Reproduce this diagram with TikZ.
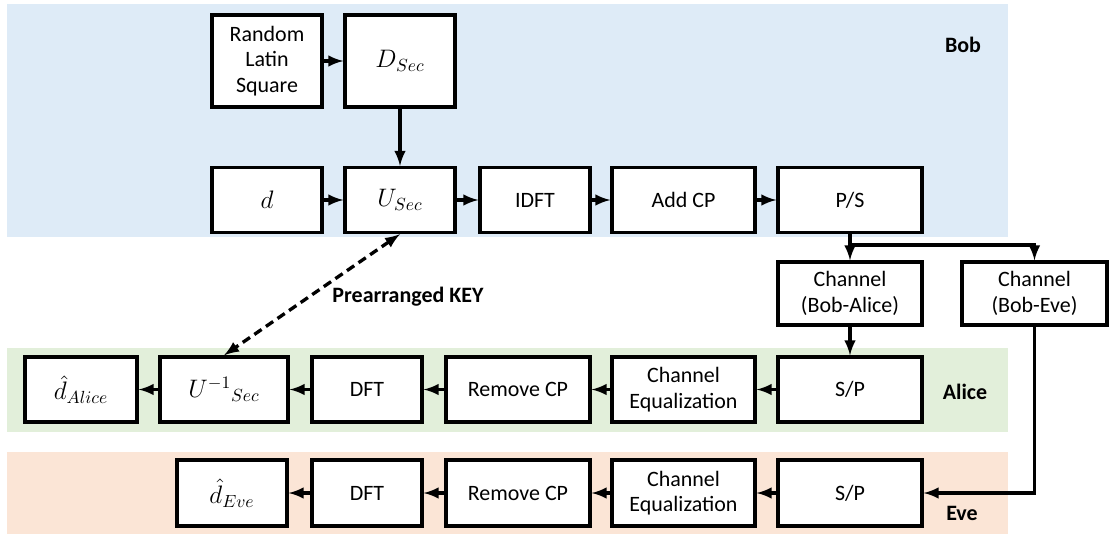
\documentclass[tikz,border=0pt]{standalone}
\usepackage{fontspec}
\setmainfont{Carlito}
\definecolor{bobblue}{RGB}{222,235,247}
\definecolor{alicegreen}{RGB}{226,239,218}
\definecolor{evepink}{RGB}{251,229,214}

\begin{document}
\begin{tikzpicture}[x=0.02cm, y=-0.02cm, >=latex,
	every node/.style={font=\fontsize{12.5}{14.5}\selectfont},
	blk/.style={draw, line width=1.9pt, fill=white, align=center, minimum width=2.2cm, minimum height=1.3cm, inner sep=1pt},
	sym/.style={font=\fontsize{14}{16}\selectfont},
	lnk/.style={line width=1.9pt, ->},
	tag/.style={font=\fontsize{12.5}{14.5}\selectfont\bfseries}]
\useasboundingbox (0,0) rectangle (1110,534);

% bands
\fill[bobblue] (7,4) rectangle (1008,237);
\fill[alicegreen] (7,348) rectangle (1008,432);
\fill[evepink] (7,452) rectangle (1008,534);
\node[tag] (bob) at (963,45) {Bob};
\node[tag] (alice) at (965,392) {Alice};
\node[tag] (eve) at (962,513) {Eve};

% Bob
\node (rls)[blk, minimum height=1.84cm] at (267,61) {Random\\Latin\\Square};
\node (dsec)[blk, sym, minimum height=1.84cm] at (400,61) {$D_{Sec}$};
\node (d)[blk, sym] at (267,200) {$d$};
\node (usec)[blk, sym] at (400,200) {$U_{Sec}$};
\node (idft)[blk] at (535,200) {IDFT};
\node (addcp)[blk, minimum width=2.86cm] at (683.5,200) {Add CP};
\node (ps)[blk, minimum width=2.88cm] at (850,200) {P/S};

% channels
\node (chA)[blk, minimum width=2.88cm, minimum height=1.26cm] at (850,293.5) {Channel\\(Bob-Alice)};
\node (chE)[blk, minimum width=2.9cm, minimum height=1.26cm] at (1034.5,293.5) {Channel\\(Bob-Eve)};

% Alice
\node (spA)[blk, minimum width=2.88cm] at (850,389.5) {S/P};
\node (eqA)[blk, minimum width=2.86cm] at (683.5,389.5) {Channel\\Equalization};
\node (rcpA)[blk, minimum width=2.88cm] at (518,389.5) {Remove CP};
\node (dftA)[blk] at (367,389.5) {DFT};
\node (uinv)[blk, sym, minimum width=2.56cm] at (224,389.5) {${U^{-1}}_{Sec}$};
\node (dA)[blk, sym, minimum width=2.24cm] at (81,389.5) {$\hat{d}_{Alice}$};

% Eve
\node (spE)[blk, minimum width=2.88cm, minimum height=1.32cm] at (850,493) {S/P};
\node (eqE)[blk, minimum width=2.86cm, minimum height=1.32cm] at (683.5,493) {Channel\\Equalization};
\node (rcpE)[blk, minimum width=2.88cm, minimum height=1.32cm] at (518,493) {Remove CP};
\node (dftE)[blk, minimum height=1.32cm] at (367,493) {DFT};
\node (dE)[blk, sym, minimum height=1.32cm] at (232,493) {$\hat{d}_{Eve}$};

\draw[lnk](rls)--(dsec);\draw[lnk](dsec)--(usec);
\draw[lnk](d)--(usec);\draw[lnk](usec)--(idft);
\draw[lnk](idft)--(addcp);\draw[lnk](addcp)--(ps);
\draw[lnk](ps)--(chA);\draw[lnk](ps.south)--++(0,11)-|(chE.north);
\draw[lnk](chA)--(spA);\draw[lnk](chE.south)|-(spE.east);

\foreach \a/\b in {spA/eqA,eqA/rcpA,rcpA/dftA,dftA/uinv,uinv/dA,spE/eqE,eqE/rcpE,rcpE/dftE,dftE/dE}
{
	\draw[lnk](\a)--(\b);
}

\draw[line width=1.9pt, <->, dash pattern=on 5pt off 3pt](usec.south)--(uinv.north);
\node[tag] (key) at (408,297) {Prearranged KEY};
\end{tikzpicture}
\end{document}
